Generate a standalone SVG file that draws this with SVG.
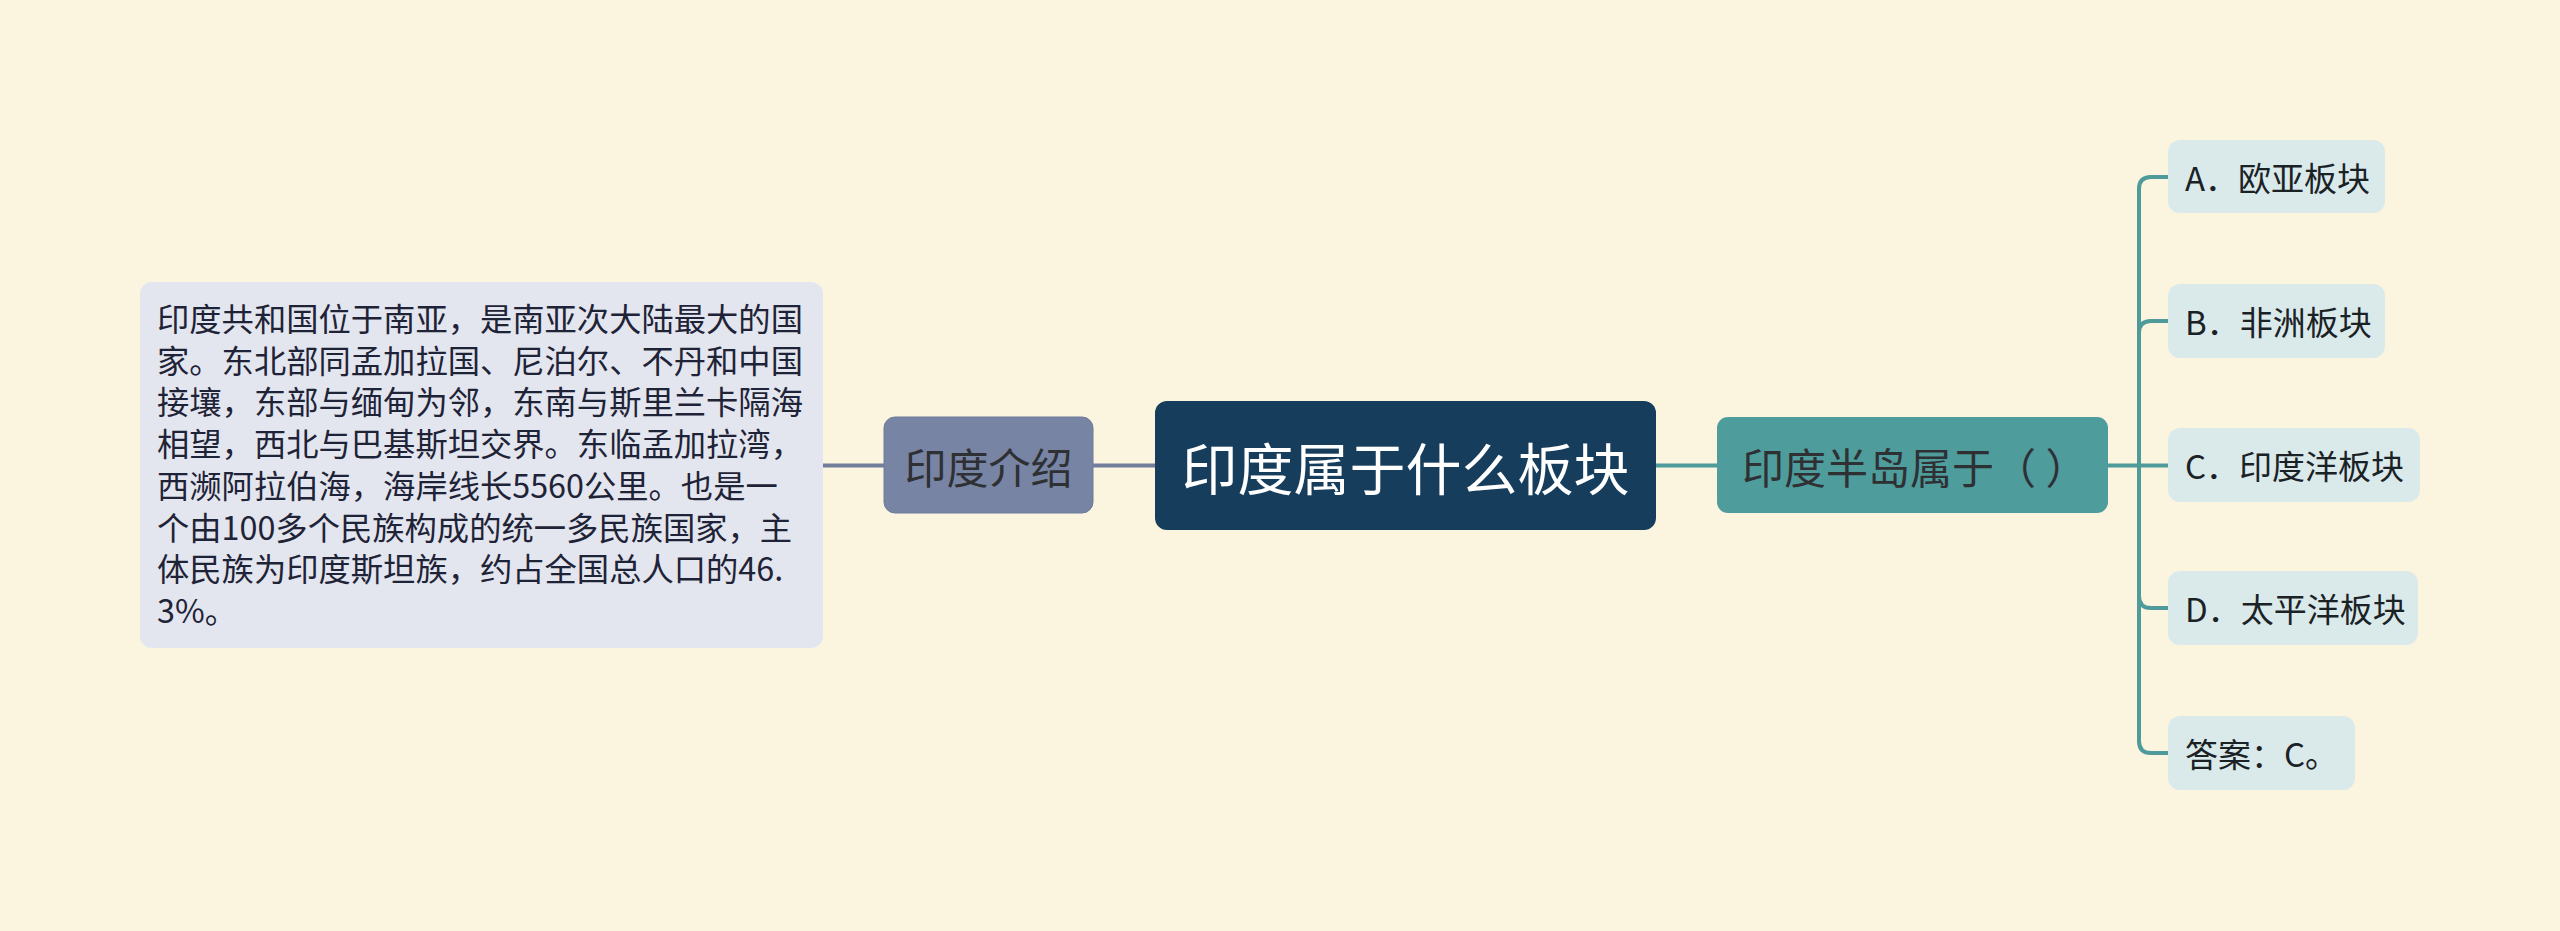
<svg xmlns="http://www.w3.org/2000/svg" width="2560" height="931" viewBox="0 0 2560 931">
<style>
.t{font-family:"Noto Sans CJK SC","Noto Sans",sans-serif}
.lbl{dominant-baseline:central}
.conL{fill:none;stroke:#737e9d;stroke-width:4}
.conR{fill:none;stroke:#4f9a9a;stroke-width:4}
.leaf rect{fill:#dae9ea}
.leaf text{font-size:33px;fill:#1b2226}
</style>
<rect x="0" y="0" width="2560" height="931" fill="#fbf5e0"/>
<g id="connectors">
<path class="conL" d="M823 465.5 H884"/>
<path class="conL" d="M1093 465.5 H1155"/>
<path class="conR" d="M1656 465.5 H1717"/>
<path class="conR" d="M2108 465.5 H2139 V189 Q2139 177 2151 177 H2168"/>
<path class="conR" d="M2139 333 Q2139 321 2151 321 H2168"/>
<path class="conR" d="M2139 465.5 H2168"/>
<path class="conR" d="M2139 465.5 V596 Q2139 608 2151 608 H2168"/>
<path class="conR" d="M2139 465.5 V741 Q2139 753 2151 753 H2168"/>
</g>
<g id="intro-detail">
<rect x="140" y="282" width="683" height="366" rx="12" fill="#e3e6ee"/>
<text class="t" font-size="32.3" fill="#1f2337">
<tspan x="157" y="331">印度共和国位于南亚，是南亚次大陆最大的国</tspan>
<tspan x="157" y="372.7">家。东北部同孟加拉国、尼泊尔、不丹和中国</tspan>
<tspan x="157" y="414.4">接壤，东部与缅甸为邻，东南与斯里兰卡隔海</tspan>
<tspan x="157" y="456.1">相望，西北与巴基斯坦交界。东临孟加拉湾，</tspan>
<tspan x="157" y="497.8">西濒阿拉伯海，海岸线长5560公里。也是一</tspan>
<tspan x="157" y="539.5">个由100多个民族构成的统一多民族国家，主</tspan>
<tspan x="157" y="581.2">体民族为印度斯坦族，约占全国总人口的46.</tspan>
<tspan x="157" y="623">3%。</tspan>
</text>
</g>
<g id="intro">
<rect x="884" y="417" width="209" height="96" rx="11" fill="#7884a4" stroke="#6e7a9a" stroke-width="1"/>
<text class="t lbl" x="988.5" y="465" font-size="42" fill="#2e3033" text-anchor="middle">印度介绍</text>
</g>
<g id="root">
<rect x="1155" y="401" width="501" height="129" rx="12" fill="#173d5c"/>
<text class="t lbl" x="1405.5" y="465.5" font-size="56" fill="#ffffff" text-anchor="middle">印度属于什么板块</text>
</g>
<g id="question">
<rect x="1717" y="417" width="391" height="96" rx="11" fill="#4e9c9c"/>
<text class="t lbl" x="1742" y="465" font-size="42" fill="#2e3033">印度半岛属于（ ）</text>
</g>
<g id="optA" class="leaf">
<rect x="2168" y="140" width="217" height="73" rx="12"/>
<text class="t lbl" x="2185" y="177">A．欧亚板块</text>
</g>
<g id="optB" class="leaf">
<rect x="2168" y="284" width="217" height="74" rx="12"/>
<text class="t lbl" x="2185" y="321">B．非洲板块</text>
</g>
<g id="optC" class="leaf">
<rect x="2168" y="428" width="252" height="74" rx="12"/>
<text class="t lbl" x="2185" y="465">C．印度洋板块</text>
</g>
<g id="optD" class="leaf">
<rect x="2168" y="571" width="250" height="74" rx="12"/>
<text class="t lbl" x="2185" y="608">D．太平洋板块</text>
</g>
<g id="answer" class="leaf">
<rect x="2168" y="716" width="187" height="74" rx="12"/>
<text class="t lbl" x="2185" y="753">答案：C。</text>
</g>
</svg>
